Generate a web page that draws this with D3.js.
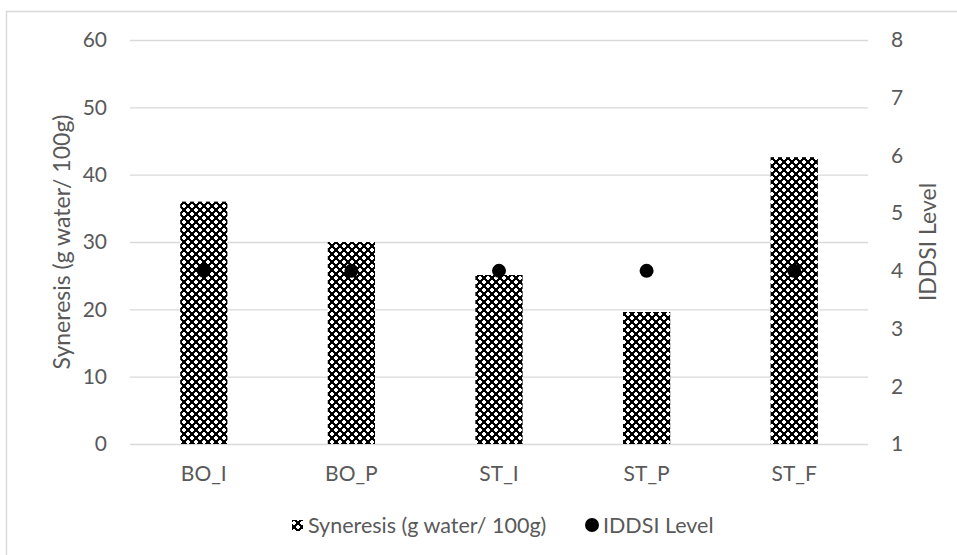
<!DOCTYPE html>
<html>
<head>
<meta charset="utf-8">
<script src="https://cdn.jsdelivr.net/npm/d3@7"></script>
<style>
  body { margin: 0; background: #fff; }
  text { font-family: Lato, "Open Sans", "Liberation Sans", sans-serif; fill: #595959; }
</style>
</head>
<body>
<div id="chart"></div>
<script>
var categories = ["BO_I", "BO_P", "ST_I", "ST_P", "ST_F"];
var syneresis = [36, 30, 25.1, 19.6, 42.6];
var iddsi = [4, 4, 4, 4, 4];
var leftTicks = [0, 10, 20, 30, 40, 50, 60];
var rightTicks = [1, 2, 3, 4, 5, 6, 7, 8];

var svgWidth = 957;
var svgHeight = 555;
var margin = { top: 40, right: 89, bottom: 111, left: 130 };
var width = svgWidth - margin.left - margin.right;
var height = svgHeight - margin.top - margin.bottom;

var svg = d3.select("#chart")
    .append("svg")
    .attr("width", svgWidth)
    .attr("height", svgHeight);

// hatch pattern for the bars
var defs = svg.append("defs");
var pat = defs.append("pattern")
    .attr("id", "checks")
    .attr("patternUnits", "userSpaceOnUse")
    .attr("width", 8)
    .attr("height", 8);
pat.append("rect").attr("width", 8).attr("height", 8).attr("fill", "#000");
[[1, 1], [5, 5]].forEach(function(p) {
    pat.append("rect").attr("x", p[0]).attr("y", p[1] - 1).attr("width", 2).attr("height", 4).attr("fill", "#fff");
    pat.append("rect").attr("x", p[0] - 1).attr("y", p[1]).attr("width", 4).attr("height", 2).attr("fill", "#fff");
});

// chart border
svg.append("path")
    .attr("d", "M6.5," + svgHeight + "V11.5H" + svgWidth)
    .attr("fill", "none")
    .attr("stroke", "#d9d9d9")
    .attr("stroke-width", 1.5);

var chartGroup = svg.append("g")
    .attr("transform", `translate(${margin.left}, ${margin.top})`);

var xScale = d3.scaleBand()
    .domain(categories)
    .range([0, width])
    .paddingInner(0.68)
    .paddingOuter(0.34);

var yLeft = d3.scaleLinear().domain([0, 60]).range([height, 0]);
var yRight = d3.scaleLinear().domain([1, 8]).range([height, 0]);

// gridlines
chartGroup.append("g")
    .selectAll("line")
    .data(leftTicks)
    .enter()
    .append("line")
    .attr("x1", 0)
    .attr("x2", width)
    .attr("y1", d => yLeft(d) + 0.5)
    .attr("y2", d => yLeft(d) + 0.5)
    .attr("stroke", "#d9d9d9")
    .attr("stroke-width", 1.3);

// bars
chartGroup.selectAll(".bar")
    .data(syneresis)
    .enter()
    .append("rect")
    .attr("class", "bar")
    .attr("x", (d, i) => xScale(categories[i]))
    .attr("y", d => yLeft(d))
    .attr("width", xScale.bandwidth())
    .attr("height", d => height - yLeft(d))
    .attr("fill", "url(#checks)");

// points
chartGroup.selectAll(".dot")
    .data(iddsi)
    .enter()
    .append("circle")
    .attr("class", "dot")
    .attr("cx", (d, i) => xScale(categories[i]) + xScale.bandwidth() / 2)
    .attr("cy", d => yRight(d))
    .attr("r", 7)
    .attr("fill", "#000");

// axes
var leftAxis = d3.axisLeft(yLeft).tickValues(leftTicks).tickSize(0).tickPadding(23);
var rightAxis = d3.axisRight(yRight).tickValues(rightTicks).tickFormat(d3.format("d")).tickSize(0).tickPadding(23);
var bottomAxis = d3.axisBottom(xScale).tickSize(0).tickPadding(22);

[chartGroup.append("g").call(leftAxis),
 chartGroup.append("g").attr("transform", `translate(${width}, 0)`).call(rightAxis),
 chartGroup.append("g").attr("transform", `translate(0, ${height})`).call(bottomAxis)
].forEach(function(g) {
    g.select(".domain").remove();
    g.selectAll("text").style("font-size", "21px").attr("fill", "#595959")
        .style("font-family", "Lato, 'Open Sans', 'Liberation Sans', sans-serif");
});

// axis titles
svg.append("text")
    .attr("transform", `translate(62, ${margin.top + height / 2}) rotate(-90)`)
    .attr("text-anchor", "middle")
    .attr("dy", "0.35em")
    .style("font-size", "23px")
    .text("Syneresis (g water/ 100g)");

svg.append("text")
    .attr("transform", `translate(928, ${margin.top + height / 2}) rotate(-90)`)
    .attr("text-anchor", "middle")
    .attr("dy", "0.35em")
    .style("font-size", "23px")
    .text("IDDSI Level");

// legend
var legend = svg.append("g").attr("transform", "translate(0, 525)");
legend.append("rect")
    .attr("x", 292).attr("y", -5).attr("width", 11).attr("height", 11)
    .attr("fill", "url(#checks)");
legend.append("text")
    .attr("x", 308).attr("dy", "0.35em")
    .style("font-size", "21.5px")
    .text("Syneresis (g water/ 100g)");
legend.append("circle")
    .attr("cx", 592).attr("cy", 0).attr("r", 7)
    .attr("fill", "#000");
legend.append("text")
    .attr("x", 603).attr("dy", "0.35em")
    .style("font-size", "21.5px")
    .text("IDDSI Level");
</script>
</body>
</html>
